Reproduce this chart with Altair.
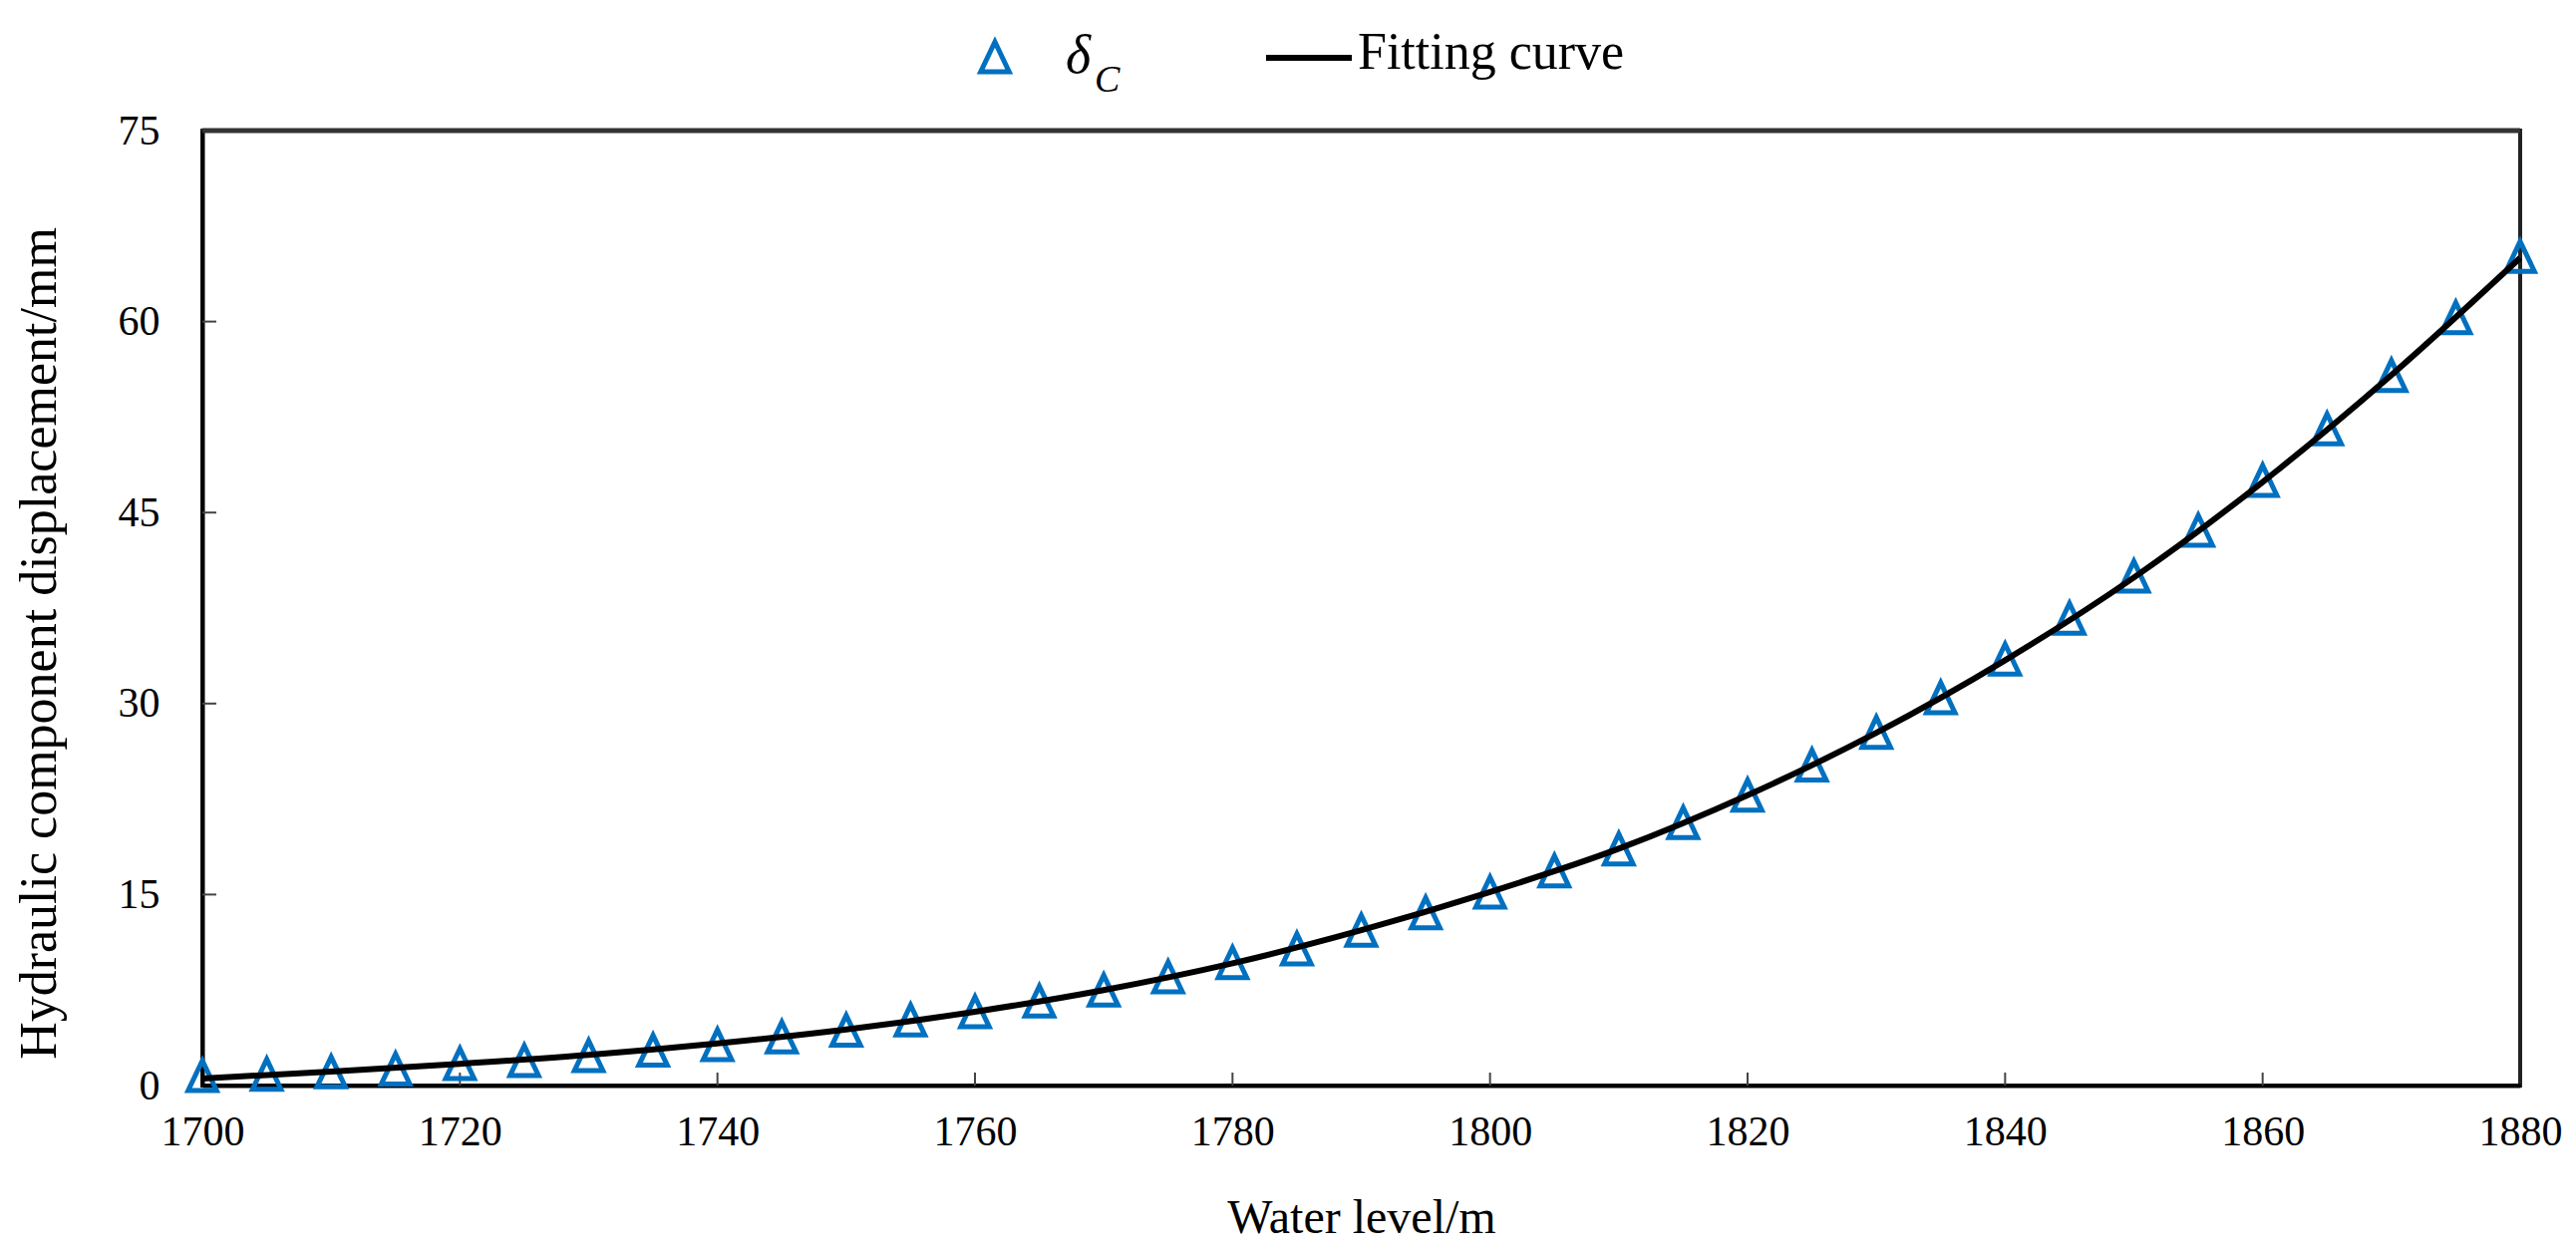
import altair as alt
import pandas as pd

# ---- data ----
water_level = list(range(1700, 1881, 5))
delta_c = [0.78, 0.89, 1.07, 1.30, 1.72, 1.96, 2.35, 2.77, 3.21, 3.81,
           4.34, 5.14, 5.79, 6.63, 7.49, 8.53, 9.65, 10.73, 12.19, 13.57,
           15.19, 16.86, 18.58, 20.65, 22.81, 25.16, 27.74, 30.46, 33.49, 36.70,
           40.00, 43.61, 47.53, 51.57, 55.77, 60.31, 65.12]

fit_level = list(range(1700, 1881, 10))
fit_value = [0.55, 1.1, 1.7, 2.4, 3.3, 4.4, 5.8, 7.5, 9.6, 12.2,
             15.2, 18.6, 22.8, 27.7, 33.4, 39.9, 47.4, 55.8, 65.0]

x_ticks = [1700, 1720, 1740, 1760, 1780, 1800, 1820, 1840, 1860, 1880]
y_ticks = [0, 15, 30, 45, 60, 75]
x_inner_ticks = [1720, 1740, 1760, 1780, 1800, 1820, 1840, 1860]
y_inner_ticks = [15, 30, 45, 60]

legend_symbol_label = ["δ", "C"]
legend_line_label = ["Fitting curve"]
x_title = "Water level/m"
y_title = "Hydraulic component displacement/mm"

# ---- styles ----
W, H = 2325, 958
FONT = "'Liberation Serif', 'Times New Roman', 'DejaVu Serif', serif"
BLUE = "#0070C0"
TRI = "M0,-1L0.95,1L-0.95,1Z"
TRI_SIZE = 900

pts = pd.DataFrame({"level": water_level, "disp": delta_c})
fit = pd.DataFrame({"level": fit_level, "disp": fit_value})
xt = pd.DataFrame({"level": x_inner_ticks})
yt = pd.DataFrame({"disp": y_inner_ticks})

xscale = alt.Scale(domain=[1700, 1880], nice=False, zero=False)
yscale = alt.Scale(domain=[0, 75], nice=False, zero=True)

x_axis = alt.Axis(values=x_ticks, title=x_title, format="d", ticks=False, tickSize=0,
                  grid=False, domainColor="#000", domainWidth=4,
                  labelFont=FONT, labelFontSize=42, labelColor="#000",
                  labelPadding=26, labelFlush=False, labelOverlap=False,
                  titleFont=FONT, titleFontSize=48, titleFontWeight="normal",
                  titleColor="#000", titleY=133, titleBaseline="middle")
y_axis = alt.Axis(values=y_ticks, title=y_title, format="d", ticks=False, tickSize=0,
                  grid=False, domainColor="#000", domainWidth=4,
                  labelFont=FONT, labelFontSize=42, labelColor="#000",
                  labelPadding=43, labelFlush=False, labelOverlap=False,
                  titleFont=FONT, titleFontSize=52, titleFontWeight="normal",
                  titleColor="#000", titleX=-164, titleY=514, titleAngle=270,
                  titleBaseline="middle", titleAlign="center")

points = alt.Chart(pts).mark_point(
    shape=TRI, filled=False, size=TRI_SIZE, strokeWidth=5, color=BLUE, opacity=1,
    strokeJoin="miter"
).encode(
    x=alt.X("level:Q", scale=xscale, axis=x_axis),
    y=alt.Y("disp:Q", scale=yscale, axis=y_axis),
)

curve = alt.Chart(fit).mark_line(color="#000", strokeWidth=6, interpolate="monotone").encode(
    x=alt.X("level:Q", scale=xscale),
    y=alt.Y("disp:Q", scale=yscale),
)

xticks = alt.Chart(xt).mark_rule(color="#444", strokeWidth=2).encode(
    x=alt.X("level:Q", scale=xscale),
    y=alt.value(H), y2=alt.value(H - 13),
)
yticks = alt.Chart(yt).mark_rule(color="#444", strokeWidth=2).encode(
    y=alt.Y("disp:Q", scale=yscale),
    x=alt.value(0), x2=alt.value(14),
)

top_border = alt.Chart(pd.DataFrame({"k": [0]})).mark_rule(color="#333", strokeWidth=5).encode(
    x=alt.value(0), x2=alt.value(W), y=alt.value(0)
)

# ---- legend (drawn by hand above the plot) ----
leg_sym = alt.Chart(pd.DataFrame({"k": [0]})).mark_point(
    shape=TRI, filled=False, size=TRI_SIZE, strokeWidth=5, color=BLUE, opacity=1, strokeJoin="miter"
).encode(x=alt.value(795), y=alt.value(-74))

leg_delta = alt.Chart(pd.DataFrame({"t": [legend_symbol_label[0]]})).mark_text(
    font=FONT, fontSize=54, fontStyle="italic", align="left", baseline="alphabetic", color="#000"
).encode(text="t:N", x=alt.value(866), y=alt.value(-58))

leg_sub = alt.Chart(pd.DataFrame({"t": [legend_symbol_label[1]]})).mark_text(
    font=FONT, fontSize=38, fontStyle="italic", align="left", baseline="alphabetic", color="#000"
).encode(text="t:N", x=alt.value(895), y=alt.value(-39))

leg_line = alt.Chart(pd.DataFrame({"k": [0]})).mark_rule(color="#000", strokeWidth=6).encode(
    x=alt.value(1067), x2=alt.value(1153), y=alt.value(-73)
)

leg_text = alt.Chart(pd.DataFrame({"t": legend_line_label})).mark_text(
    font=FONT, fontSize=52, align="left", baseline="alphabetic", color="#000"
).encode(text="t:N", x=alt.value(1159), y=alt.value(-62))

chart = alt.layer(
    xticks, yticks, points, curve, top_border,
    leg_sym, leg_delta, leg_sub, leg_line, leg_text
).properties(
    width=W, height=H,
    autosize=alt.AutoSizeParams(type="none"),
    padding={"left": 195, "top": 123, "right": 48, "bottom": 158},
    background="white",
).configure_view(
    stroke="#222", strokeWidth=4
)

chart.save("out.html", embed_options={"renderer": "svg", "actions": False})
